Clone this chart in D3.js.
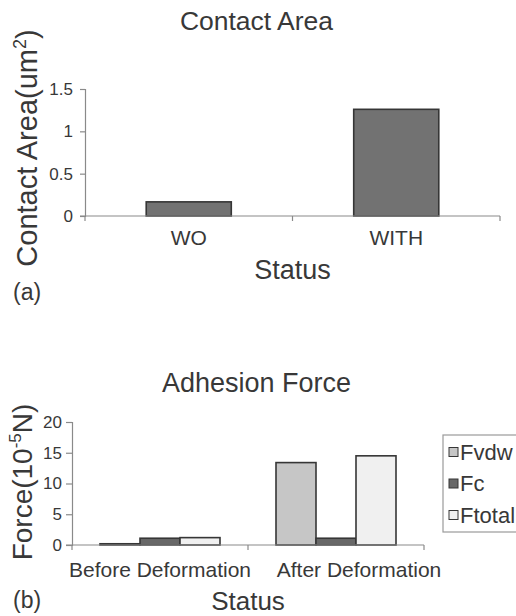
<!DOCTYPE html>
<html>
<head>
<meta charset="utf-8">
<script src="https://cdn.jsdelivr.net/npm/d3@7"></script>
<style>
  html, body { margin: 0; padding: 0; background: #fff; }
  svg { display: block; }
  text { font-family: "Liberation Sans", Arial, sans-serif; fill: #383838; }
</style>
</head>
<body>
<svg id="chart" width="516" height="616"></svg>
<script>
// ---- Data (a) ----
const statusA = ["WO", "WITH"];
const contactArea = [0.167, 1.26];
const ticksA = [0, 0.5, 1, 1.5];

// ---- Data (b) ----
const statusB = ["Before Deformation", "After Deformation"];
const seriesB = ["Fvdw", "Fc", "Ftotal"];
const fvdw = [0.2, 13.4];
const fc = [1.1, 1.1];
const ftotal = [1.2, 14.5];
const ticksB = [0, 5, 10, 15, 20];

const seriesColors = { Fvdw: "#c6c6c6", Fc: "#686868", Ftotal: "#f0f0f0" };
const seriesValues = { Fvdw: fvdw, Fc: fc, Ftotal: ftotal };

const svg = d3.select("#chart");
const axisColor = "#8a8a8a";
const barStroke = "#363636";

function styleAxis(g) {
  g.select(".domain").attr("stroke", axisColor).attr("stroke-width", 1.2);
  g.selectAll(".tick line").attr("stroke", axisColor).attr("stroke-width", 1.2);
}

// ================= Chart (a) =================
{
  const left = 85, right = 500, top = 89, bottom = 216;
  const x = d3.scaleBand().domain(statusA).range([left, right]).padding(0);
  const xb = d3.scaleBand().domain(statusA).range([left, right])
    .paddingInner(0.59).paddingOuter(0.295);
  const y = d3.scaleLinear().domain([0, 1.5]).range([bottom, top]);

  const g = svg.append("g");

  g.selectAll("rect.a").data(statusA).enter().append("rect")
    .attr("x", d => xb(d))
    .attr("width", xb.bandwidth())
    .attr("y", (d, i) => y(contactArea[i]))
    .attr("height", (d, i) => y(0) - y(contactArea[i]))
    .attr("fill", "#727272")
    .attr("stroke", barStroke)
    .attr("stroke-width", 1.6);

  const yAxis = g.append("g").attr("transform", `translate(${left},0)`)
    .call(d3.axisLeft(y).tickValues(ticksA).tickFormat(d3.format("")).tickSize(5).tickPadding(7));
  styleAxis(yAxis);
  yAxis.selectAll(".tick text").style("font-size", "17px").attr("fill", "#383838");

  const boundaries = [left, x("WITH"), right];
  g.append("line").attr("x1", left - 5).attr("x2", right).attr("y1", bottom).attr("y2", bottom)
    .attr("stroke", axisColor).attr("stroke-width", 1.2);
  g.selectAll("line.xt").data(boundaries).enter().append("line")
    .attr("x1", d => d).attr("x2", d => d)
    .attr("y1", bottom).attr("y2", bottom + 5)
    .attr("stroke", axisColor).attr("stroke-width", 1.2);

  g.selectAll("text.xl").data(statusA).enter().append("text")
    .attr("x", d => x(d) + x.bandwidth() / 2)
    .attr("y", bottom + 29)
    .attr("text-anchor", "middle")
    .style("font-size", "21px")
    .text(d => d);

  g.append("text").attr("x", 256.5).attr("y", 30).attr("text-anchor", "middle")
    .style("font-size", "26.5px").text("Contact Area");

  g.append("text").attr("x", x("WITH")).attr("y", 279).attr("text-anchor", "middle")
    .style("font-size", "27px").text("Status");

  const yl = g.append("text")
    .attr("transform", "translate(37,148) rotate(-90)")
    .attr("text-anchor", "middle")
    .style("font-size", "29px");
  yl.append("tspan").text("Contact Area(um");
  yl.append("tspan").attr("dy", -11).style("font-size", "18px").text("2");
  yl.append("tspan").attr("dy", 11).text(")");

  g.append("text").attr("x", 13).attr("y", 300).style("font-size", "23px").text("(a)");
}

// ================= Chart (b) =================
{
  const left = 72, right = 424, top = 422, bottom = 545;
  const x0 = d3.scaleBand().domain(statusB).range([left, right]).padding(0);
  const x1 = d3.scaleBand().domain(seriesB).range([0, x0.bandwidth()])
    .paddingInner(0).paddingOuter(0.7);
  const y = d3.scaleLinear().domain([0, 20]).range([bottom, top]);

  const g = svg.append("g");

  statusB.forEach((cat, ci) => {
    g.selectAll(null).data(seriesB).enter().append("rect")
      .attr("x", s => x0(cat) + x1(s))
      .attr("width", x1.bandwidth())
      .attr("y", s => y(seriesValues[s][ci]))
      .attr("height", s => y(0) - y(seriesValues[s][ci]))
      .attr("fill", s => seriesColors[s])
      .attr("stroke", barStroke)
      .attr("stroke-width", 1.6);
  });

  const yAxis = g.append("g").attr("transform", `translate(${left},0)`)
    .call(d3.axisLeft(y).tickValues(ticksB).tickSize(6).tickPadding(4));
  styleAxis(yAxis);
  yAxis.selectAll(".tick text").style("font-size", "17px").attr("fill", "#383838");

  const boundaries = [left, x0("After Deformation"), right];
  g.append("line").attr("x1", left - 6).attr("x2", right).attr("y1", bottom).attr("y2", bottom)
    .attr("stroke", axisColor).attr("stroke-width", 1.2);
  g.selectAll("line.xt").data(boundaries).enter().append("line")
    .attr("x1", d => d).attr("x2", d => d)
    .attr("y1", bottom).attr("y2", bottom + 5)
    .attr("stroke", axisColor).attr("stroke-width", 1.2);

  // the second category label sits shifted to the right in the original
  g.selectAll("text.xl").data(statusB).enter().append("text")
    .attr("x", (d, i) => x0(d) + x0.bandwidth() / 2 + (i === 1 ? 23 : 0))
    .attr("y", bottom + 32)
    .attr("text-anchor", "middle")
    .style("font-size", "21px")
    .text(d => d);

  g.append("text").attr("x", 256.5).attr("y", 392).attr("text-anchor", "middle")
    .style("font-size", "27px").text("Adhesion Force");

  g.append("text").attr("x", x0("After Deformation")).attr("y", 610).attr("text-anchor", "middle")
    .style("font-size", "26px").text("Status");

  const yl = g.append("text")
    .attr("transform", "translate(32,482) rotate(-90)")
    .attr("text-anchor", "middle")
    .style("font-size", "28px");
  yl.append("tspan").text("Force(10");
  yl.append("tspan").attr("dy", -11).style("font-size", "17px").text("-5");
  yl.append("tspan").attr("dy", 11).text("N)");

  g.append("text").attr("x", 13).attr("y", 608).style("font-size", "23px").text("(b)");

  // legend
  const lg = g.append("g");
  lg.append("rect").attr("x", 443).attr("y", 435).attr("width", 90).attr("height", 97)
    .attr("fill", "#fff").attr("stroke", "#9a9a9a").attr("stroke-width", 1.2);
  const legY = d3.scalePoint().domain(seriesB).range([452, 515]);
  lg.selectAll("rect.sw").data(seriesB).enter().append("rect")
    .attr("x", 449).attr("y", s => legY(s) - 4.5)
    .attr("width", 9).attr("height", 9)
    .attr("fill", s => seriesColors[s])
    .attr("stroke", barStroke).attr("stroke-width", 1);
  lg.selectAll("text.lt").data(seriesB).enter().append("text")
    .attr("x", 460).attr("y", s => legY(s) + 7.5)
    .style("font-size", "22px")
    .text(s => s);
}
</script>
</body>
</html>
